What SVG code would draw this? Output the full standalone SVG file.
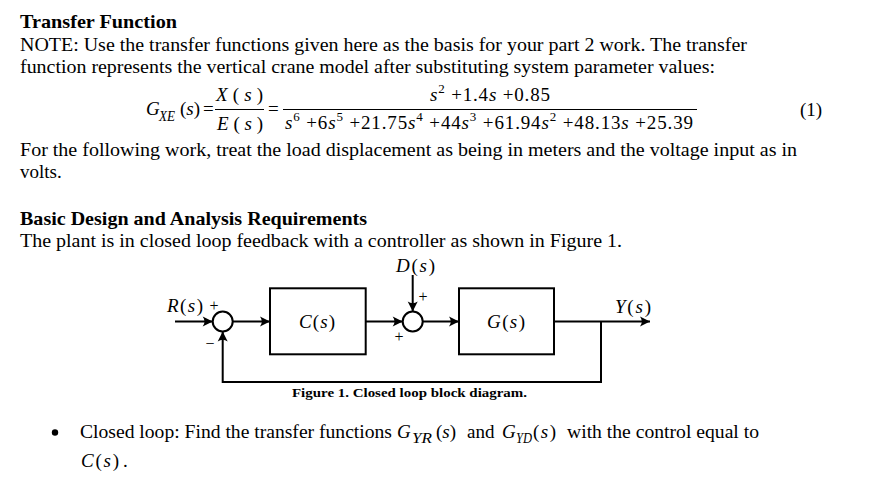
<svg xmlns="http://www.w3.org/2000/svg" width="872" height="480" viewBox="0 0 872 480">
<style>
text{font-family:"Liberation Serif","Times New Roman",serif;fill:#000;}
.t{font-size:19px;}
.b{font-size:19px;font-weight:bold;}
.i{font-style:italic;}
.sub{font-size:14px;font-style:italic;}
.sup{font-size:13px;}
.sm{font-size:16px;}
.ln{fill:none;stroke:#000;stroke-width:2;}
</style>
<defs>
<marker id="ah" markerUnits="userSpaceOnUse" markerWidth="12" markerHeight="12" viewBox="-11 -6 12 12" refX="0" refY="0" orient="auto">
<path d="M0,0 L-10,-5 Q-6.5,0 -10,5 Z" fill="#000"/>
</marker>
</defs>
<rect width="872" height="480" fill="#fff"/>

<g id="header">
<text class="b" x="20" y="28" textLength="157" lengthAdjust="spacingAndGlyphs">Transfer Function</text>
<text class="t" x="20" y="51" textLength="727" lengthAdjust="spacingAndGlyphs">NOTE: Use the transfer functions given here as the basis for your part 2 work. The transfer</text>
<text class="t" x="20" y="73" textLength="695" lengthAdjust="spacingAndGlyphs">function represents the vertical crane model after substituting system parameter values:</text>
</g>

<g id="equation">
<text class="t" x="146" y="115"><tspan class="i">G</tspan></text>
<text class="sub" x="159" y="121" textLength="16" lengthAdjust="spacingAndGlyphs">XE</text>
<text class="t" x="180" y="115" textLength="20" lengthAdjust="spacing">(<tspan class="i">s</tspan>)</text>
<text class="t" x="203" y="115">=</text>
<text class="t" x="216" y="101" textLength="47" lengthAdjust="spacing"><tspan class="i">X</tspan>(<tspan class="i">s</tspan>)</text>
<text class="t" x="217" y="130" textLength="46" lengthAdjust="spacing"><tspan class="i">E</tspan>(<tspan class="i">s</tspan>)</text>
<line x1="215" y1="109.5" x2="264" y2="109.5" stroke="#000" stroke-width="1.2"/>
<text class="t" x="268" y="115">=</text>
<line x1="283" y1="109.5" x2="697" y2="109.5" stroke="#000" stroke-width="1.2"/>
<text class="t" x="430" y="101" textLength="120" lengthAdjust="spacing"><tspan class="i">s</tspan><tspan class="sup" dy="-8">2</tspan><tspan dy="8"> +1.4</tspan><tspan class="i">s</tspan> +0.85</text>
<text class="t" x="285" y="129" textLength="408" lengthAdjust="spacing"><tspan class="i">s</tspan><tspan class="sup" dy="-8">6</tspan><tspan dy="8"> +6</tspan><tspan class="i">s</tspan><tspan class="sup" dy="-8">5</tspan><tspan dy="8"> +21.75</tspan><tspan class="i">s</tspan><tspan class="sup" dy="-8">4</tspan><tspan dy="8"> +44</tspan><tspan class="i">s</tspan><tspan class="sup" dy="-8">3</tspan><tspan dy="8"> +61.94</tspan><tspan class="i">s</tspan><tspan class="sup" dy="-8">2</tspan><tspan dy="8"> +48.13</tspan><tspan class="i">s</tspan> +25.39</text>
<text class="t" x="800" y="116">(1)</text>
</g>

<g id="body">
<text class="t" x="20" y="156" textLength="777" lengthAdjust="spacingAndGlyphs">For the following work, treat the load displacement as being in meters and the voltage input as in</text>
<text class="t" x="20" y="178">volts.</text>
<text class="b" x="20" y="225" textLength="347" lengthAdjust="spacingAndGlyphs">Basic Design and Analysis Requirements</text>
<text class="t" x="20" y="247" textLength="602" lengthAdjust="spacingAndGlyphs">The plant is in closed loop feedback with a controller as shown in Figure 1.</text>
</g>

<g id="connectors">
<line class="ln" x1="175" y1="321.5" x2="212.7" y2="321.5" marker-end="url(#ah)"/>
<line class="ln" x1="232.7" y1="321.5" x2="270" y2="321.5" marker-end="url(#ah)"/>
<line class="ln" x1="365.7" y1="321.5" x2="402.7" y2="321.5" marker-end="url(#ah)"/>
<line class="ln" x1="412.7" y1="275" x2="412.7" y2="311.5" marker-end="url(#ah)"/>
<line class="ln" x1="422.7" y1="321.5" x2="459" y2="321.5" marker-end="url(#ah)"/>
<line class="ln" x1="554" y1="321.5" x2="650" y2="321.5" marker-end="url(#ah)"/>
<polyline class="ln" points="601,321.5 601,382 222.7,382 222.7,331.5" marker-end="url(#ah)"/>
</g>

<g id="sum1">
<circle class="ln" cx="222.7" cy="321.5" r="10"/>
<text class="sm" x="214" y="311" text-anchor="middle">+</text>
<text class="sm" x="210" y="349" text-anchor="middle">−</text>
</g>
<g id="controller">
<rect class="ln" x="270" y="288.3" width="95.7" height="66"/>
<text class="t" x="299" y="328" textLength="36" lengthAdjust="spacing"><tspan class="i">C</tspan>(<tspan class="i">s</tspan>)</text>
</g>
<g id="sum2">
<circle class="ln" cx="412.7" cy="321.5" r="10"/>
<text class="sm" x="423" y="302" text-anchor="middle">+</text>
<text class="sm" x="399" y="341.5" text-anchor="middle">+</text>
</g>
<g id="plant">
<rect class="ln" x="459" y="288.3" width="95" height="66"/>
<text class="t" x="487" y="328" textLength="38" lengthAdjust="spacing"><tspan class="i">G</tspan>(<tspan class="i">s</tspan>)</text>
</g>
<g id="input-R">
<text class="t" x="167" y="311.5" textLength="36" lengthAdjust="spacing"><tspan class="i">R</tspan>(<tspan class="i">s</tspan>)</text>
</g>
<g id="input-D">
<text class="t" x="396" y="272" textLength="39" lengthAdjust="spacing"><tspan class="i">D</tspan>(<tspan class="i">s</tspan>)</text>
</g>
<g id="output-Y">
<text class="t" x="615" y="313" textLength="36" lengthAdjust="spacing"><tspan class="i">Y</tspan>(<tspan class="i">s</tspan>)</text>
</g>
<g id="caption">
<text x="292" y="397" font-size="13" font-weight="bold" textLength="235" lengthAdjust="spacingAndGlyphs">Figure 1. Closed loop block diagram.</text>
</g>

<g id="bullet">
<circle cx="55" cy="432.5" r="3.2" fill="#000"/>
<text class="t" x="80" y="437.5" textLength="312" lengthAdjust="spacingAndGlyphs">Closed loop: Find the transfer functions</text>
<text class="t" x="397" y="437.5"><tspan class="i">G</tspan></text>
<text class="sub" x="412" y="443" textLength="20" lengthAdjust="spacingAndGlyphs">YR</text>
<text class="t" x="436" y="437.5" textLength="20" lengthAdjust="spacing">(<tspan class="i">s</tspan>)</text>
<text class="t" x="467" y="437.5">and</text>
<text class="t" x="502" y="437.5"><tspan class="i">G</tspan></text>
<text class="sub" x="516" y="443" textLength="16" lengthAdjust="spacingAndGlyphs">YD</text>
<text class="t" x="533" y="437.5" textLength="23" lengthAdjust="spacing">(<tspan class="i">s</tspan>)</text>
<text class="t" x="567" y="437.5" textLength="192" lengthAdjust="spacingAndGlyphs">with the control equal to</text>
<text class="t" x="81" y="467" textLength="38" lengthAdjust="spacing"><tspan class="i">C</tspan>(<tspan class="i">s</tspan>)</text>
<text class="t" x="123" y="467">.</text>
</g>
</svg>
